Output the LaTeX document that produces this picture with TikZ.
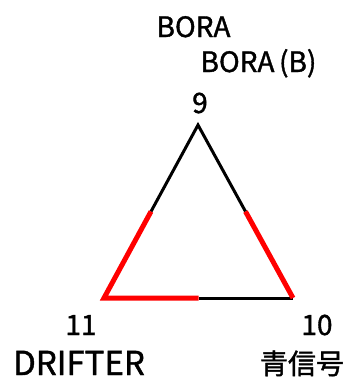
\documentclass[tikz,border=0pt]{standalone}
\usepackage{fontspec}
\setmainfont[FakeBold=1.3]{Noto Sans CJK JP}
\usetikzlibrary{calc}

\begin{document}
\begin{tikzpicture}[x=1pt, y=-1pt, every node/.style={font=\fontsize{28}{30}\selectfont, inner sep=0pt, anchor=base}, edgeblack/.style={line width=3pt, black, line join=miter}, edgered/.style={line width=5pt, red, line join=miter}]
	\useasboundingbox (0,0) rectangle (347,378);
	\coordinate (v9) at (198,125);
	\coordinate (v11) at (104,298);
	\coordinate (v10) at (293,298);
	\coordinate (m9-11) at ($(v9)!0.5!(v11)$);
	\coordinate (m9-10) at ($(v9)!0.5!(v10)$);
	\coordinate (m10-11) at ($(v10)!0.5!(v11)$);
	\draw[edgeblack] (m9-11) -- (v9) -- (m9-10);
	\draw[edgeblack] (m10-11) -- (v10);
	\draw[edgered] (m9-11) -- (v11) -- (m10-11);
	\draw[edgered] (m9-10) -- (v10);
	\node (bora) at (193.5,37) {BORA};
	\node (boraB) at (258.5,72) {BORA\,(B)};
	\node (lbl9) at (200,113) {9};
	\node (lbl11) at (81,335) {11};
	\node (lbl10) at (317,335) {10};
	\node[font=\fontsize{33}{35}\selectfont] (drifter) at (79,375) {DRIFTER};
	\node (aoshingo) at (302,374) {青信号};
\end{tikzpicture}
\end{document}
